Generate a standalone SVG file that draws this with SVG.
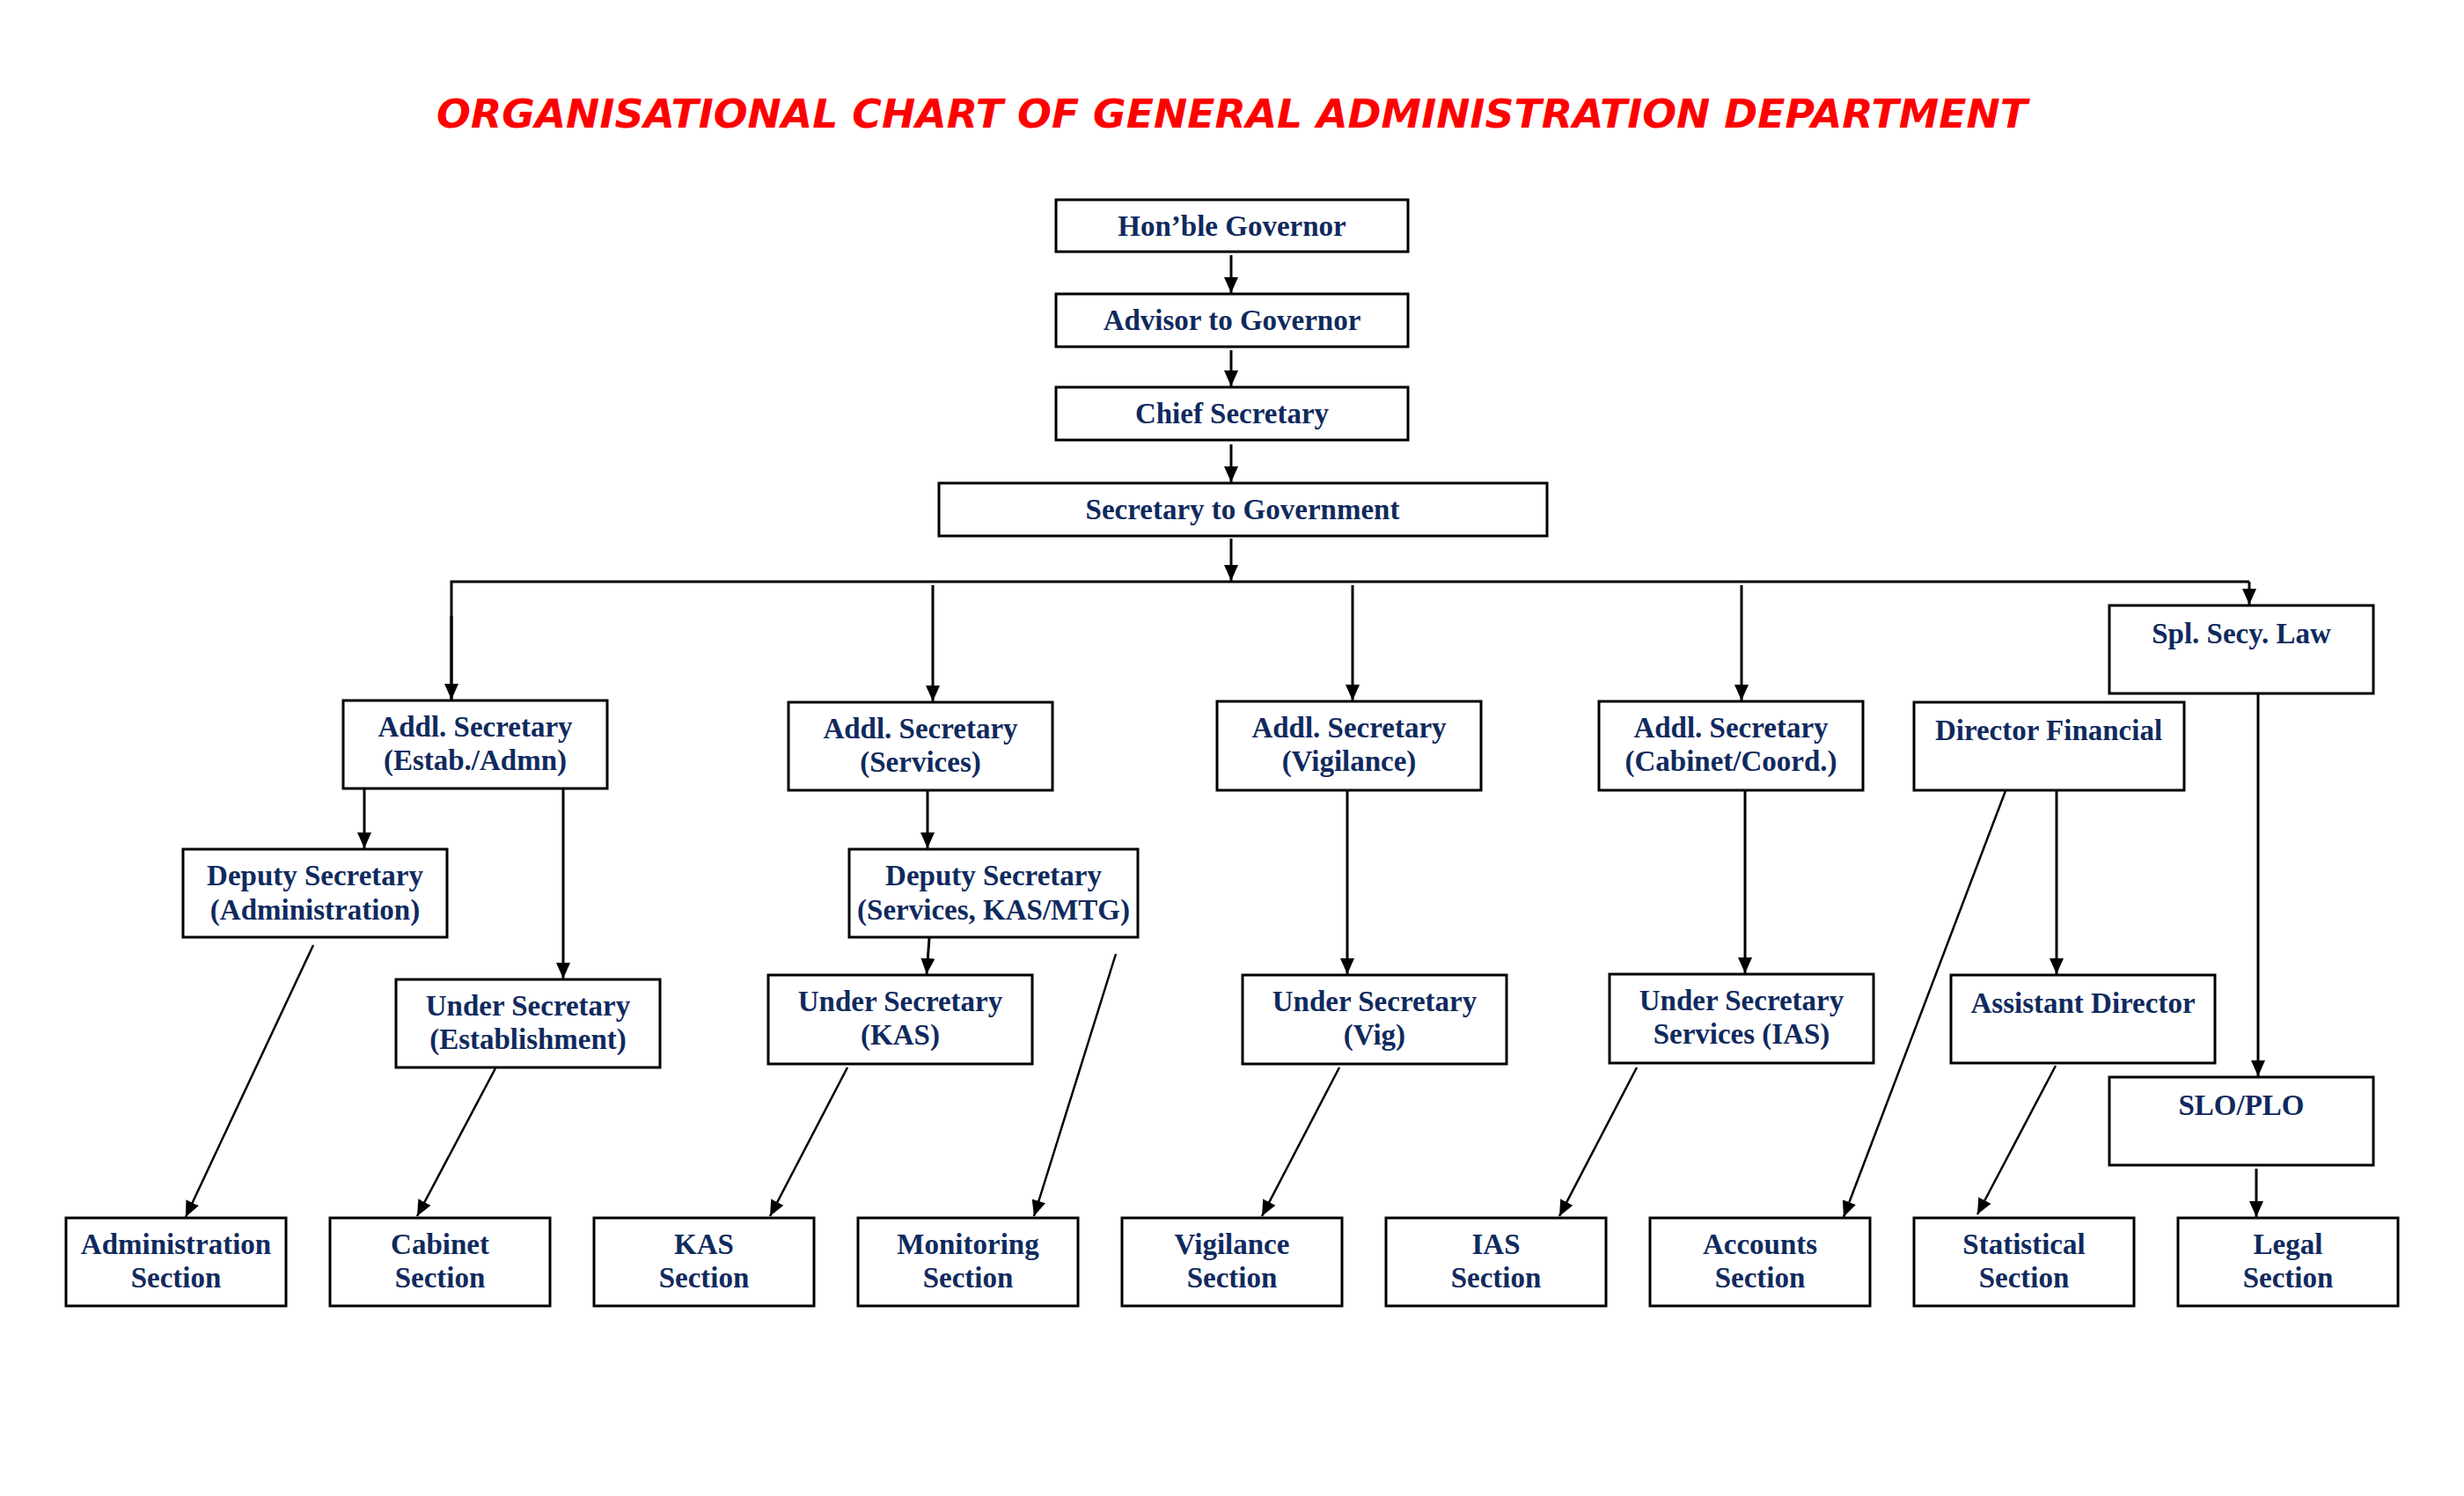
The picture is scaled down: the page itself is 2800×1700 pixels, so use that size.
<svg xmlns="http://www.w3.org/2000/svg" width="2800" height="1700" viewBox="0 0 2800 1700">
<style>
.box{fill:#fff;stroke:#000;stroke-width:3}
.t{font-family:"Liberation Serif","Times New Roman",serif;font-weight:bold;font-size:33px;fill:#102A5E;text-anchor:middle}
.c{fill:none;stroke:#000;stroke-width:3}
.d{fill:none;stroke:#000;stroke-width:2.5}
.title{font-family:"DejaVu Sans",Verdana,sans-serif;font-weight:bold;font-style:italic;font-size:45px;fill:#FF0000;text-anchor:middle}
</style>
<defs>
<marker id="ah" markerUnits="userSpaceOnUse" markerWidth="20" markerHeight="18" refX="18" refY="8" orient="auto">
<path d="M0,0 L18,8 L0,16 z" fill="#000"/>
</marker>
</defs>
<rect width="2800" height="1700" fill="#fff"/>
<text class="title" x="1400" y="145" textLength="1808" lengthAdjust="spacingAndGlyphs">ORGANISATIONAL CHART OF GENERAL ADMINISTRATION DEPARTMENT</text>

<g id="connectors">
<line class="c" x1="1399" y1="290" x2="1399" y2="333" marker-end="url(#ah)"/>
<line class="c" x1="1399" y1="398" x2="1399" y2="439" marker-end="url(#ah)"/>
<line class="c" x1="1399" y1="505" x2="1399" y2="548" marker-end="url(#ah)"/>
<line class="c" x1="1399" y1="612" x2="1399" y2="660" marker-end="url(#ah)"/>
<polyline class="c" points="513,795 513,661 2556,661"/>
<line class="c" x1="513" y1="700" x2="513" y2="795" marker-end="url(#ah)"/>
<line class="c" x1="2556" y1="661" x2="2556" y2="687" marker-end="url(#ah)"/>
<line class="c" x1="1060" y1="665" x2="1060" y2="797" marker-end="url(#ah)"/>
<line class="c" x1="1537" y1="665" x2="1537" y2="796" marker-end="url(#ah)"/>
<line class="c" x1="1979" y1="665" x2="1979" y2="796" marker-end="url(#ah)"/>
<line class="c" x1="414" y1="897" x2="414" y2="964" marker-end="url(#ah)"/>
<line class="c" x1="640" y1="897" x2="640" y2="1112" marker-end="url(#ah)"/>
<line class="c" x1="1054" y1="899" x2="1054" y2="964" marker-end="url(#ah)"/>
<line class="c" x1="1056" y1="1066" x2="1053" y2="1107" marker-end="url(#ah)"/>
<line class="c" x1="1531" y1="899" x2="1531" y2="1107" marker-end="url(#ah)"/>
<line class="c" x1="1983" y1="899" x2="1983" y2="1106" marker-end="url(#ah)"/>
<line class="c" x1="2337" y1="899" x2="2337" y2="1107" marker-end="url(#ah)"/>
<line class="c" x1="2566" y1="789" x2="2566" y2="1223" marker-end="url(#ah)"/>
<line class="c" x1="2564" y1="1328" x2="2564" y2="1383" marker-end="url(#ah)"/>
<line class="d" x1="356" y1="1074" x2="211" y2="1383" marker-end="url(#ah)"/>
<line class="d" x1="563" y1="1214" x2="474" y2="1382" marker-end="url(#ah)"/>
<line class="d" x1="963" y1="1213" x2="875" y2="1382" marker-end="url(#ah)"/>
<line class="d" x1="1268" y1="1084" x2="1175" y2="1382" marker-end="url(#ah)"/>
<line class="d" x1="1522" y1="1213" x2="1434" y2="1382" marker-end="url(#ah)"/>
<line class="d" x1="1860" y1="1213" x2="1772" y2="1382" marker-end="url(#ah)"/>
<line class="d" x1="2280" y1="896" x2="2095" y2="1383" marker-end="url(#ah)"/>
<line class="d" x1="2336" y1="1211" x2="2247" y2="1380" marker-end="url(#ah)"/>
</g>

<g id="governor"><rect class="box" x="1200" y="227" width="400" height="59"/><text class="t" x="1400" y="268">Hon’ble Governor</text></g>
<g id="advisor"><rect class="box" x="1200" y="334" width="400" height="60"/><text class="t" x="1400" y="375">Advisor to Governor</text></g>
<g id="chief-secretary"><rect class="box" x="1200" y="440" width="400" height="60"/><text class="t" x="1400" y="481">Chief Secretary</text></g>
<g id="secretary-govt"><rect class="box" x="1067" y="549" width="691" height="60"/><text class="t" x="1412" y="590">Secretary to Government</text></g>

<g id="as-estab"><rect class="box" x="390" y="796" width="300" height="100"/><text class="t" x="540" y="837">Addl. Secretary</text><text class="t" x="540" y="875">(Estab./Admn)</text></g>
<g id="as-services"><rect class="box" x="896" y="798" width="300" height="100"/><text class="t" x="1046" y="839">Addl. Secretary</text><text class="t" x="1046" y="877">(Services)</text></g>
<g id="as-vigilance"><rect class="box" x="1383" y="797" width="300" height="101"/><text class="t" x="1533" y="838">Addl. Secretary</text><text class="t" x="1533" y="876">(Vigilance)</text></g>
<g id="as-cabinet"><rect class="box" x="1817" y="797" width="300" height="101"/><text class="t" x="1967" y="838">Addl. Secretary</text><text class="t" x="1967" y="876">(Cabinet/Coord.)</text></g>
<g id="director-financial"><rect class="box" x="2175" y="798" width="307" height="100"/><text class="t" x="2328" y="841">Director Financial</text></g>
<g id="spl-secy-law"><rect class="box" x="2397" y="688" width="300" height="100"/><text class="t" x="2547" y="731">Spl. Secy. Law</text></g>

<g id="ds-admin"><rect class="box" x="208" y="965" width="300" height="100"/><text class="t" x="358" y="1006">Deputy Secretary</text><text class="t" x="358" y="1045">(Administration)</text></g>
<g id="ds-services"><rect class="box" x="965" y="965" width="328" height="100"/><text class="t" x="1129" y="1006">Deputy Secretary</text><text class="t" x="1129" y="1045">(Services, KAS/MTG)</text></g>

<g id="us-establishment"><rect class="box" x="450" y="1113" width="300" height="100"/><text class="t" x="600" y="1154">Under Secretary</text><text class="t" x="600" y="1192">(Establishment)</text></g>
<g id="us-kas"><rect class="box" x="873" y="1108" width="300" height="101"/><text class="t" x="1023" y="1149">Under Secretary</text><text class="t" x="1023" y="1187">(KAS)</text></g>
<g id="us-vig"><rect class="box" x="1412" y="1108" width="300" height="101"/><text class="t" x="1562" y="1149">Under Secretary</text><text class="t" x="1562" y="1187">(Vig)</text></g>
<g id="us-ias"><rect class="box" x="1829" y="1107" width="300" height="101"/><text class="t" x="1979" y="1148">Under Secretary</text><text class="t" x="1979" y="1186">Services (IAS)</text></g>
<g id="assistant-director"><rect class="box" x="2217" y="1108" width="300" height="100"/><text class="t" x="2367" y="1151">Assistant Director</text></g>
<g id="slo-plo"><rect class="box" x="2397" y="1224" width="300" height="100"/><text class="t" x="2547" y="1267">SLO/PLO</text></g>

<g id="administration-section"><rect class="box" x="75" y="1384" width="250" height="100"/><text class="t" x="200" y="1425">Administration</text><text class="t" x="200" y="1463">Section</text></g>
<g id="cabinet-section"><rect class="box" x="375" y="1384" width="250" height="100"/><text class="t" x="500" y="1425">Cabinet</text><text class="t" x="500" y="1463">Section</text></g>
<g id="kas-section"><rect class="box" x="675" y="1384" width="250" height="100"/><text class="t" x="800" y="1425">KAS</text><text class="t" x="800" y="1463">Section</text></g>
<g id="monitoring-section"><rect class="box" x="975" y="1384" width="250" height="100"/><text class="t" x="1100" y="1425">Monitoring</text><text class="t" x="1100" y="1463">Section</text></g>
<g id="vigilance-section"><rect class="box" x="1275" y="1384" width="250" height="100"/><text class="t" x="1400" y="1425">Vigilance</text><text class="t" x="1400" y="1463">Section</text></g>
<g id="ias-section"><rect class="box" x="1575" y="1384" width="250" height="100"/><text class="t" x="1700" y="1425">IAS</text><text class="t" x="1700" y="1463">Section</text></g>
<g id="accounts-section"><rect class="box" x="1875" y="1384" width="250" height="100"/><text class="t" x="2000" y="1425">Accounts</text><text class="t" x="2000" y="1463">Section</text></g>
<g id="statistical-section"><rect class="box" x="2175" y="1384" width="250" height="100"/><text class="t" x="2300" y="1425">Statistical</text><text class="t" x="2300" y="1463">Section</text></g>
<g id="legal-section"><rect class="box" x="2475" y="1384" width="250" height="100"/><text class="t" x="2600" y="1425">Legal</text><text class="t" x="2600" y="1463">Section</text></g>
</svg>
